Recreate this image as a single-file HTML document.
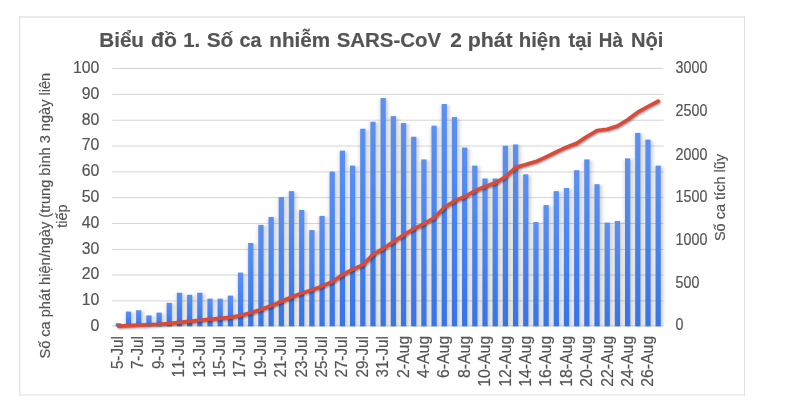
<!DOCTYPE html>
<html lang="vi"><head><meta charset="utf-8"><title>Biểu đồ 1</title>
<style>html,body{margin:0;padding:0;background:#fff;}body{width:800px;height:415px;overflow:hidden;position:relative;}svg{position:absolute;left:0;top:0;display:block;}svg{filter:blur(0.4px);}text{font-family:'Liberation Sans', sans-serif;fill:#545454;stroke:#545454;stroke-width:0.18px;font-kerning:none;}</style></head><body>
<svg width="800" height="415" viewBox="0 0 800 415">
<defs>
<linearGradient id="bg" x1="0" y1="0" x2="0" y2="1"><stop offset="0" stop-color="#5b90f2"/><stop offset="0.5" stop-color="#4583f0"/><stop offset="1" stop-color="#3674e8"/></linearGradient>
<filter id="sh" x="-5%" y="-5%" width="110%" height="110%"><feGaussianBlur in="SourceAlpha" stdDeviation="2.8 1.2"/><feOffset dx="1.2" dy="0.6"/><feComponentTransfer><feFuncA type="linear" slope="0.3"/></feComponentTransfer></filter>
<filter id="lsh" x="-5%" y="-20%" width="110%" height="140%"><feGaussianBlur in="SourceAlpha" stdDeviation="1.3"/><feOffset dx="0.7" dy="1.2"/><feComponentTransfer><feFuncA type="linear" slope="0.45"/></feComponentTransfer></filter>
<clipPath id="pc"><rect x="100" y="60" width="580" height="266.45"/></clipPath>
</defs>
<rect x="0" y="0" width="800" height="415" fill="#fff"/>
<g stroke="#e0e0e0" fill="none"><line x1="19" y1="17" x2="745" y2="17" stroke-width="1.5" stroke="#e4e4e4"/><line x1="19.7" y1="16.2" x2="19.7" y2="395.6" stroke-width="1.2"/><line x1="744.5" y1="16.2" x2="744.5" y2="395.6" stroke-width="1.1"/><line x1="19.1" y1="395" x2="745" y2="395" stroke-width="1.2"/></g>
<line x1="112.25" y1="326.00" x2="663.50" y2="326.00" stroke="#d4d4d4" stroke-width="1"/>
<line x1="112.25" y1="300.90" x2="663.50" y2="300.90" stroke="#d4d4d4" stroke-width="1"/>
<line x1="112.25" y1="275.00" x2="663.50" y2="275.00" stroke="#d4d4d4" stroke-width="1"/>
<line x1="112.25" y1="249.42" x2="663.50" y2="249.42" stroke="#d4d4d4" stroke-width="1"/>
<line x1="112.25" y1="223.45" x2="663.50" y2="223.45" stroke="#d4d4d4" stroke-width="1"/>
<line x1="112.25" y1="197.60" x2="663.50" y2="197.60" stroke="#d4d4d4" stroke-width="1"/>
<line x1="112.25" y1="171.90" x2="663.50" y2="171.90" stroke="#d4d4d4" stroke-width="1"/>
<line x1="112.25" y1="146.03" x2="663.50" y2="146.03" stroke="#d4d4d4" stroke-width="1"/>
<line x1="112.25" y1="120.22" x2="663.50" y2="120.22" stroke="#d4d4d4" stroke-width="1"/>
<line x1="112.25" y1="94.42" x2="663.50" y2="94.42" stroke="#d4d4d4" stroke-width="1"/>
<line x1="112.25" y1="68.42" x2="663.50" y2="68.42" stroke="#d4d4d4" stroke-width="1"/>
<g clip-path="url(#pc)"><g filter="url(#sh)" fill="#000"><rect x="115.75" y="323.16" width="5.20" height="3.14"/><rect x="125.94" y="311.55" width="5.20" height="14.75"/><rect x="136.12" y="310.26" width="5.20" height="16.04"/><rect x="146.31" y="315.42" width="5.20" height="10.88"/><rect x="156.49" y="312.58" width="5.20" height="13.72"/><rect x="166.68" y="302.79" width="5.20" height="23.51"/><rect x="176.86" y="292.73" width="5.20" height="33.57"/><rect x="187.05" y="294.79" width="5.20" height="31.51"/><rect x="197.23" y="292.73" width="5.20" height="33.57"/><rect x="207.42" y="298.66" width="5.20" height="27.64"/><rect x="217.60" y="298.66" width="5.20" height="27.64"/><rect x="227.79" y="295.57" width="5.20" height="30.73"/><rect x="237.97" y="272.62" width="5.20" height="53.68"/><rect x="248.16" y="242.96" width="5.20" height="83.34"/><rect x="258.34" y="224.91" width="5.20" height="101.39"/><rect x="268.52" y="216.92" width="5.20" height="109.38"/><rect x="278.71" y="197.07" width="5.20" height="129.23"/><rect x="288.89" y="191.14" width="5.20" height="135.16"/><rect x="299.08" y="209.96" width="5.20" height="116.34"/><rect x="309.26" y="230.07" width="5.20" height="96.23"/><rect x="319.45" y="215.89" width="5.20" height="110.41"/><rect x="329.63" y="171.54" width="5.20" height="154.76"/><rect x="339.82" y="150.65" width="5.20" height="175.65"/><rect x="350.00" y="165.61" width="5.20" height="160.69"/><rect x="360.19" y="128.74" width="5.20" height="197.56"/><rect x="370.38" y="121.77" width="5.20" height="204.53"/><rect x="380.56" y="98.05" width="5.20" height="228.25"/><rect x="390.75" y="116.10" width="5.20" height="210.20"/><rect x="400.93" y="123.06" width="5.20" height="203.24"/><rect x="411.12" y="136.73" width="5.20" height="189.57"/><rect x="421.30" y="159.42" width="5.20" height="166.88"/><rect x="431.49" y="125.64" width="5.20" height="200.66"/><rect x="441.67" y="103.98" width="5.20" height="222.32"/><rect x="451.86" y="117.13" width="5.20" height="209.17"/><rect x="462.04" y="147.56" width="5.20" height="178.74"/><rect x="472.23" y="165.61" width="5.20" height="160.69"/><rect x="482.41" y="178.50" width="5.20" height="147.80"/><rect x="492.60" y="178.50" width="5.20" height="147.80"/><rect x="502.78" y="145.75" width="5.20" height="180.55"/><rect x="512.97" y="144.47" width="5.20" height="181.83"/><rect x="523.15" y="174.38" width="5.20" height="151.92"/><rect x="533.34" y="222.08" width="5.20" height="104.22"/><rect x="543.52" y="205.06" width="5.20" height="121.24"/><rect x="553.71" y="191.14" width="5.20" height="135.16"/><rect x="563.89" y="188.04" width="5.20" height="138.26"/><rect x="574.08" y="170.25" width="5.20" height="156.05"/><rect x="584.26" y="159.42" width="5.20" height="166.88"/><rect x="594.45" y="184.17" width="5.20" height="142.13"/><rect x="604.63" y="222.59" width="5.20" height="103.71"/><rect x="614.82" y="221.05" width="5.20" height="105.25"/><rect x="625.00" y="158.39" width="5.20" height="167.91"/><rect x="635.19" y="132.86" width="5.20" height="193.44"/><rect x="645.37" y="139.57" width="5.20" height="186.73"/><rect x="655.56" y="165.61" width="5.20" height="160.69"/></g></g>
<g fill="url(#bg)"><rect x="115.75" y="323.16" width="5.20" height="3.14"/><rect x="125.94" y="311.55" width="5.20" height="14.75"/><rect x="136.12" y="310.26" width="5.20" height="16.04"/><rect x="146.31" y="315.42" width="5.20" height="10.88"/><rect x="156.49" y="312.58" width="5.20" height="13.72"/><rect x="166.68" y="302.79" width="5.20" height="23.51"/><rect x="176.86" y="292.73" width="5.20" height="33.57"/><rect x="187.05" y="294.79" width="5.20" height="31.51"/><rect x="197.23" y="292.73" width="5.20" height="33.57"/><rect x="207.42" y="298.66" width="5.20" height="27.64"/><rect x="217.60" y="298.66" width="5.20" height="27.64"/><rect x="227.79" y="295.57" width="5.20" height="30.73"/><rect x="237.97" y="272.62" width="5.20" height="53.68"/><rect x="248.16" y="242.96" width="5.20" height="83.34"/><rect x="258.34" y="224.91" width="5.20" height="101.39"/><rect x="268.52" y="216.92" width="5.20" height="109.38"/><rect x="278.71" y="197.07" width="5.20" height="129.23"/><rect x="288.89" y="191.14" width="5.20" height="135.16"/><rect x="299.08" y="209.96" width="5.20" height="116.34"/><rect x="309.26" y="230.07" width="5.20" height="96.23"/><rect x="319.45" y="215.89" width="5.20" height="110.41"/><rect x="329.63" y="171.54" width="5.20" height="154.76"/><rect x="339.82" y="150.65" width="5.20" height="175.65"/><rect x="350.00" y="165.61" width="5.20" height="160.69"/><rect x="360.19" y="128.74" width="5.20" height="197.56"/><rect x="370.38" y="121.77" width="5.20" height="204.53"/><rect x="380.56" y="98.05" width="5.20" height="228.25"/><rect x="390.75" y="116.10" width="5.20" height="210.20"/><rect x="400.93" y="123.06" width="5.20" height="203.24"/><rect x="411.12" y="136.73" width="5.20" height="189.57"/><rect x="421.30" y="159.42" width="5.20" height="166.88"/><rect x="431.49" y="125.64" width="5.20" height="200.66"/><rect x="441.67" y="103.98" width="5.20" height="222.32"/><rect x="451.86" y="117.13" width="5.20" height="209.17"/><rect x="462.04" y="147.56" width="5.20" height="178.74"/><rect x="472.23" y="165.61" width="5.20" height="160.69"/><rect x="482.41" y="178.50" width="5.20" height="147.80"/><rect x="492.60" y="178.50" width="5.20" height="147.80"/><rect x="502.78" y="145.75" width="5.20" height="180.55"/><rect x="512.97" y="144.47" width="5.20" height="181.83"/><rect x="523.15" y="174.38" width="5.20" height="151.92"/><rect x="533.34" y="222.08" width="5.20" height="104.22"/><rect x="543.52" y="205.06" width="5.20" height="121.24"/><rect x="553.71" y="191.14" width="5.20" height="135.16"/><rect x="563.89" y="188.04" width="5.20" height="138.26"/><rect x="574.08" y="170.25" width="5.20" height="156.05"/><rect x="584.26" y="159.42" width="5.20" height="166.88"/><rect x="594.45" y="184.17" width="5.20" height="142.13"/><rect x="604.63" y="222.59" width="5.20" height="103.71"/><rect x="614.82" y="221.05" width="5.20" height="105.25"/><rect x="625.00" y="158.39" width="5.20" height="167.91"/><rect x="635.19" y="132.86" width="5.20" height="193.44"/><rect x="645.37" y="139.57" width="5.20" height="186.73"/><rect x="655.56" y="165.61" width="5.20" height="160.69"/></g>
<polyline points="118.35,326.15 128.53,325.66 138.72,325.12 148.91,324.76 159.09,324.31 169.28,323.53 179.46,322.41 189.65,321.36 199.83,320.24 210.02,319.32 220.20,318.40 230.39,317.38 240.57,315.59 250.75,312.82 260.94,309.44 271.12,305.79 281.31,301.49 291.50,296.98 301.68,293.11 311.87,289.90 322.05,286.22 332.24,281.67 342.42,274.71 352.61,269.46 362.79,264.87 372.98,254.56 383.16,248.60 393.35,241.85 403.53,235.07 413.72,228.76 423.90,223.80 434.09,217.71 444.27,207.50 454.46,200.93 464.64,196.77 474.83,190.82 485.01,186.49 495.20,182.97 505.38,176.85 515.57,167.49 525.75,164.43 535.94,161.56 546.12,156.92 556.31,151.81 566.49,147.21 576.68,143.21 586.86,136.45 597.05,130.51 607.23,129.26 617.42,125.95 627.60,119.75 637.79,112.11 647.97,106.48 658.16,101.13" fill="none" stroke="#000" stroke-width="3.6" stroke-linejoin="round" stroke-linecap="round" filter="url(#lsh)"/>
<polyline points="118.35,326.15 128.53,325.66 138.72,325.12 148.91,324.76 159.09,324.31 169.28,323.53 179.46,322.41 189.65,321.36 199.83,320.24 210.02,319.32 220.20,318.40 230.39,317.38 240.57,315.59 250.75,312.82 260.94,309.44 271.12,305.79 281.31,301.49 291.50,296.98 301.68,293.11 311.87,289.90 322.05,286.22 332.24,281.67 342.42,274.71 352.61,269.46 362.79,264.87 372.98,254.56 383.16,248.60 393.35,241.85 403.53,235.07 413.72,228.76 423.90,223.80 434.09,217.71 444.27,207.50 454.46,200.93 464.64,196.77 474.83,190.82 485.01,186.49 495.20,182.97 505.38,176.85 515.57,167.49 525.75,164.43 535.94,161.56 546.12,156.92 556.31,151.81 566.49,147.21 576.68,143.21 586.86,136.45 597.05,130.51 607.23,129.26 617.42,125.95 627.60,119.75 637.79,112.11 647.97,106.48 658.16,101.13" fill="none" stroke="#db4a39" stroke-width="3.6" stroke-linejoin="round" stroke-linecap="round"/>
<text y="46.9" font-size="21.0" font-weight="bold" fill="#4c4c4c" stroke="#4c4c4c"><tspan x="99.27" textLength="44.71" lengthAdjust="spacingAndGlyphs">Biểu</tspan> <tspan x="150.99" textLength="25.87" lengthAdjust="spacingAndGlyphs">đồ</tspan> <tspan x="183.14" textLength="16.98" lengthAdjust="spacingAndGlyphs">1.</tspan> <tspan x="206.70" textLength="26.68" lengthAdjust="spacingAndGlyphs">Số</tspan> <tspan x="239.40" textLength="21.97" lengthAdjust="spacingAndGlyphs">ca</tspan> <tspan x="269.27" textLength="60.80" lengthAdjust="spacingAndGlyphs">nhiễm</tspan> <tspan x="336.72" textLength="104.42" lengthAdjust="spacingAndGlyphs">SARS-CoV</tspan> <tspan x="450.31" textLength="11.56" lengthAdjust="spacingAndGlyphs">2</tspan> <tspan x="467.73" textLength="45.00" lengthAdjust="spacingAndGlyphs">phát</tspan> <tspan x="518.69" textLength="41.94" lengthAdjust="spacingAndGlyphs">hiện</tspan> <tspan x="568.61" textLength="23.43" lengthAdjust="spacingAndGlyphs">tại</tspan> <tspan x="598.85" textLength="24.00" lengthAdjust="spacingAndGlyphs">Hà</tspan> <tspan x="630.95" textLength="32.51" lengthAdjust="spacingAndGlyphs">Nội</tspan></text>
<text x="99.3" y="331.15" text-anchor="end" font-size="15.8">0</text>
<text x="99.3" y="305.30" text-anchor="end" font-size="15.8">10</text>
<text x="99.3" y="279.40" text-anchor="end" font-size="15.8">20</text>
<text x="99.3" y="253.82" text-anchor="end" font-size="15.8">30</text>
<text x="99.3" y="227.85" text-anchor="end" font-size="15.8">40</text>
<text x="99.3" y="202.00" text-anchor="end" font-size="15.8">50</text>
<text x="99.3" y="176.30" text-anchor="end" font-size="15.8">60</text>
<text x="99.3" y="150.43" text-anchor="end" font-size="15.8">70</text>
<text x="99.3" y="124.62" text-anchor="end" font-size="15.8">80</text>
<text x="99.3" y="98.82" text-anchor="end" font-size="15.8">90</text>
<text x="99.3" y="73.22" text-anchor="end" font-size="15.8">100</text>
<text transform="translate(675.6,330.45) scale(0.905,1)" text-anchor="start" font-size="15.8">0</text>
<text transform="translate(675.6,287.85) scale(0.905,1)" text-anchor="start" font-size="15.8">500</text>
<text transform="translate(675.6,245.10) scale(0.905,1)" text-anchor="start" font-size="15.8">1000</text>
<text transform="translate(675.6,201.80) scale(0.905,1)" text-anchor="start" font-size="15.8">1500</text>
<text transform="translate(675.6,159.60) scale(0.905,1)" text-anchor="start" font-size="15.8">2000</text>
<text transform="translate(675.6,116.10) scale(0.905,1)" text-anchor="start" font-size="15.8">2500</text>
<text transform="translate(675.6,73.27) scale(0.905,1)" text-anchor="start" font-size="15.8">3000</text>
<text transform="translate(123.05,336.2) rotate(-90) scale(0.955,1)" text-anchor="end" font-size="15.9">5-Jul</text>
<text transform="translate(143.44,336.2) rotate(-90) scale(0.955,1)" text-anchor="end" font-size="15.9">7-Jul</text>
<text transform="translate(163.84,336.2) rotate(-90) scale(0.955,1)" text-anchor="end" font-size="15.9">9-Jul</text>
<text transform="translate(184.23,336.2) rotate(-90) scale(0.955,1)" text-anchor="end" font-size="15.9">11-Jul</text>
<text transform="translate(204.63,336.2) rotate(-90) scale(0.955,1)" text-anchor="end" font-size="15.9">13-Jul</text>
<text transform="translate(225.02,336.2) rotate(-90) scale(0.955,1)" text-anchor="end" font-size="15.9">15-Jul</text>
<text transform="translate(245.41,336.2) rotate(-90) scale(0.955,1)" text-anchor="end" font-size="15.9">17-Jul</text>
<text transform="translate(265.81,336.2) rotate(-90) scale(0.955,1)" text-anchor="end" font-size="15.9">19-Jul</text>
<text transform="translate(286.20,336.2) rotate(-90) scale(0.955,1)" text-anchor="end" font-size="15.9">21-Jul</text>
<text transform="translate(306.60,336.2) rotate(-90) scale(0.955,1)" text-anchor="end" font-size="15.9">23-Jul</text>
<text transform="translate(326.99,336.2) rotate(-90) scale(0.955,1)" text-anchor="end" font-size="15.9">25-Jul</text>
<text transform="translate(347.38,336.2) rotate(-90) scale(0.955,1)" text-anchor="end" font-size="15.9">27-Jul</text>
<text transform="translate(367.78,336.2) rotate(-90) scale(0.955,1)" text-anchor="end" font-size="15.9">29-Jul</text>
<text transform="translate(388.17,336.2) rotate(-90) scale(0.955,1)" text-anchor="end" font-size="15.9">31-Jul</text>
<text transform="translate(408.57,335.8) rotate(-90) scale(0.997,1)" text-anchor="end" font-size="15.9">2-Aug</text>
<text transform="translate(428.96,335.8) rotate(-90) scale(0.997,1)" text-anchor="end" font-size="15.9">4-Aug</text>
<text transform="translate(449.35,335.8) rotate(-90) scale(0.997,1)" text-anchor="end" font-size="15.9">6-Aug</text>
<text transform="translate(469.75,335.8) rotate(-90) scale(0.997,1)" text-anchor="end" font-size="15.9">8-Aug</text>
<text transform="translate(490.14,335.8) rotate(-90) scale(0.997,1)" text-anchor="end" font-size="15.9">10-Aug</text>
<text transform="translate(510.54,335.8) rotate(-90) scale(0.997,1)" text-anchor="end" font-size="15.9">12-Aug</text>
<text transform="translate(530.93,335.8) rotate(-90) scale(0.997,1)" text-anchor="end" font-size="15.9">14-Aug</text>
<text transform="translate(551.32,335.8) rotate(-90) scale(0.997,1)" text-anchor="end" font-size="15.9">16-Aug</text>
<text transform="translate(571.72,335.8) rotate(-90) scale(0.997,1)" text-anchor="end" font-size="15.9">18-Aug</text>
<text transform="translate(592.11,335.8) rotate(-90) scale(0.997,1)" text-anchor="end" font-size="15.9">20-Aug</text>
<text transform="translate(612.51,335.8) rotate(-90) scale(0.997,1)" text-anchor="end" font-size="15.9">22-Aug</text>
<text transform="translate(632.90,335.8) rotate(-90) scale(0.997,1)" text-anchor="end" font-size="15.9">24-Aug</text>
<text transform="translate(653.29,335.8) rotate(-90) scale(0.997,1)" text-anchor="end" font-size="15.9">26-Aug</text>
<text transform="translate(49.6,215.7) rotate(-90) scale(0.9585,1)" text-anchor="middle" font-size="15.2">Số ca phát hiện/ngày (trung bình 3 ngày liên</text>
<text transform="translate(67.1,216) rotate(-90) scale(0.955,1)" text-anchor="middle" font-size="15.2">tiếp</text>
<text transform="translate(725,197.5) rotate(-90) scale(0.955,1)" text-anchor="middle" font-size="15.2">Số ca tích lũy</text>
</svg></body></html>
